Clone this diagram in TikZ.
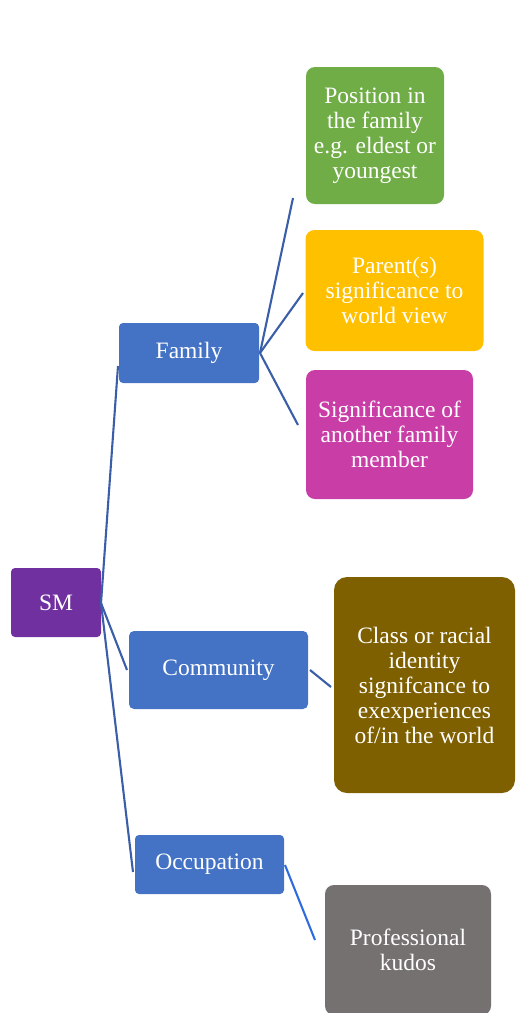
\documentclass[tikz,border=0pt]{standalone}
\usepackage{fontspec}
\setmainfont{Liberation Serif}
\definecolor{smpurple}{HTML}{7030A0}
\definecolor{catblue}{HTML}{4472C4}
\definecolor{leafgreen}{HTML}{70AD47}
\definecolor{leafyellow}{HTML}{FFC000}
\definecolor{leafmagenta}{HTML}{C93DA6}
\definecolor{leafbrown}{HTML}{7F6000}
\definecolor{leafgray}{HTML}{767171}
\definecolor{linkblue}{HTML}{3A5EA8}
\definecolor{linkbright}{HTML}{2F6BE0}
\begin{document}
\begin{tikzpicture}[x=1pt,y=-1pt,
  box/.style={rounded corners=#1, inner sep=0pt, outer sep=0pt, text=white,
    align=center, font=\fontsize{23.5}{25}\selectfont},
  box/.default=8pt,
  link/.style={draw=linkblue, line width=2.1pt},
]
\useasboundingbox (0,0) rectangle (515,1013);
\clip (0,0) rectangle (515,1013);

% root and categories
\node[box=4pt, fill=smpurple, minimum width=90pt, minimum height=69pt] (sm) at (56,602.5) {SM};
\node[box=4pt, fill=catblue, minimum width=140pt, minimum height=60pt] (family) at (189,353) {Family};
\node[box=5pt, fill=catblue, minimum width=179pt, minimum height=78pt] (community) at (218.5,670) {Community};
\node[box=4pt, fill=catblue, minimum width=149pt, minimum height=59pt] (occupation) at (209.5,864.5) {Occupation};

% leaves
\node[box=9pt, fill=leafgreen, minimum width=138pt, minimum height=137pt] (position) at (375,135.5)
  {Position in\\the family\\e.g. eldest or\\youngest};
\node[box=9pt, fill=leafyellow, minimum width=178pt, minimum height=121pt] (parent) at (394.5,290.5)
  {Parent(s)\\significance to\\world view};
\node[box=9pt, fill=leafmagenta, minimum width=167pt, minimum height=129pt] (member) at (389.5,434.5)
  {Significance of\\another family\\member};
\node[box=13pt, fill=leafbrown, minimum width=181pt, minimum height=216pt] (identity) at (424.5,685)
  {Class or racial\\identity\\signifcance to\\exexperiences\\of/in the world};
\node[box=9pt, fill=leafgray, minimum width=166pt, minimum height=130pt] (kudos) at (408,950)
  {Professional\\kudos};

% connector ends
\coordinate (smout) at (101,603);
\coordinate (famin) at (118,366);
\coordinate (comin) at (127,670);
\coordinate (occin) at (133,872);
\coordinate (famout) at (260,353);
\coordinate (posin) at (293,198);
\coordinate (parin) at (303,293);
\coordinate (memin) at (298,425);
\coordinate (comout) at (310,670);
\coordinate (idin) at (331,687);
\coordinate (occout) at (285,865);
\coordinate (kudin) at (315,940);

% connectors
\draw[link] (smout) -- (famin);
\draw[link] (smout) -- (comin);
\draw[link] (smout) -- (occin);
\draw[link] (famout) -- (posin);
\draw[link] (famout) -- (parin);
\draw[link] (famout) -- (memin);
\draw[link] (comout) -- (idin);
\draw[link, draw=linkbright] (occout) -- (kudin);
\end{tikzpicture}
\end{document}
